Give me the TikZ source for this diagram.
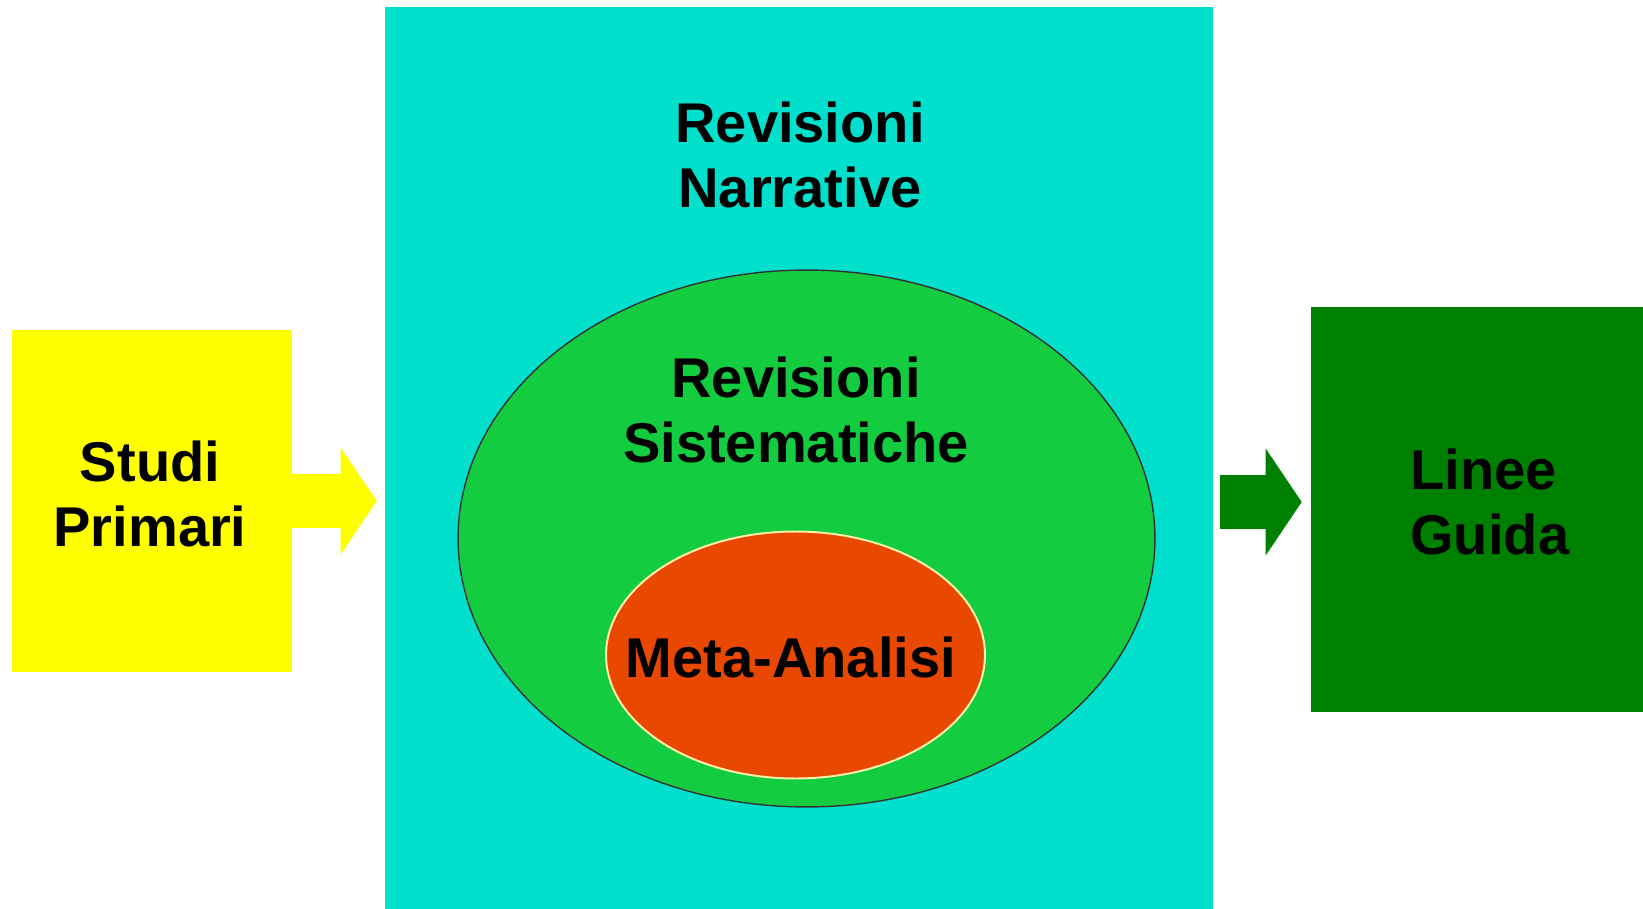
\documentclass[tikz,border=0pt]{standalone}
\usepackage{fontspec}
\setmainfont{Liberation Sans}
\usetikzlibrary{arrows.meta,shapes.geometric}

\definecolor{ciano}{RGB}{0,224,204}
\definecolor{verdechiaro}{RGB}{20,204,64}
\definecolor{rosso}{RGB}{232,72,0}
\definecolor{verdescuro}{RGB}{0,128,0}
\definecolor{giallo}{RGB}{255,255,0}

\begin{document}
\begin{tikzpicture}[
    x=0.02cm, y=-0.02cm,
    testo/.style={inner sep=0pt, align=center,
                  font=\fontsize{31.9}{37}\selectfont\bfseries},
    blocco/.style={rectangle, inner sep=0pt},
    ovale/.style={ellipse, inner sep=0pt},
    freccia/.style={line width=1.1cm,
                    -{Triangle[length=0.72cm, width=2.14cm, line width=0pt]}}
]
\useasboundingbox (0,0) rectangle (1643,909);

% Blocchi
\node[blocco, fill=giallo, minimum width=5.59cm, minimum height=6.84cm]
    (studi) at (152,501) {};

\node[blocco, fill=ciano, minimum width=16.56cm, minimum height=18.04cm]
    (panel) at (799,458) {};

\node[blocco, fill=verdescuro, minimum width=6.64cm, minimum height=8.1cm]
    (guida) at (1477,509.5) {};

% Ellissi
\node[ovale, fill=verdechiaro, draw=black!80, line width=0.8pt,
      minimum width=13.94cm, minimum height=10.74cm]
    (sist) at (806.5,538.5) {};

\node[ovale, fill=rosso, draw={rgb,255:red,255;green,240;blue,170}, line width=1.1pt,
      minimum width=7.58cm, minimum height=4.94cm]
    (meta) at (795.5,655) {};

% Testi
\node[testo] (studitxt) at (150,494) {Studi\\Primari};
\node[testo] (narrtxt) at (800,155) {Revisioni\\Narrative};
\node[testo] (sisttxt) at (796,410) {Revisioni\\Sistematiche};
\node[testo] (metatxt) at (791,657) {Meta-Analisi};
\node[testo, align=left, anchor=west] (guidatxt) at (1410,502) {Linee\\Guida};

% Frecce
\draw[freccia, giallo, shorten >=0.16cm] (studi.east) -- (studi.east -| panel.west);
\draw[freccia, verdescuro, shorten <=0.14cm, shorten >=0.18cm]
    (guidatxt.west -| panel.east) -- (guidatxt.west -| guida.west);

\end{tikzpicture}
\end{document}
